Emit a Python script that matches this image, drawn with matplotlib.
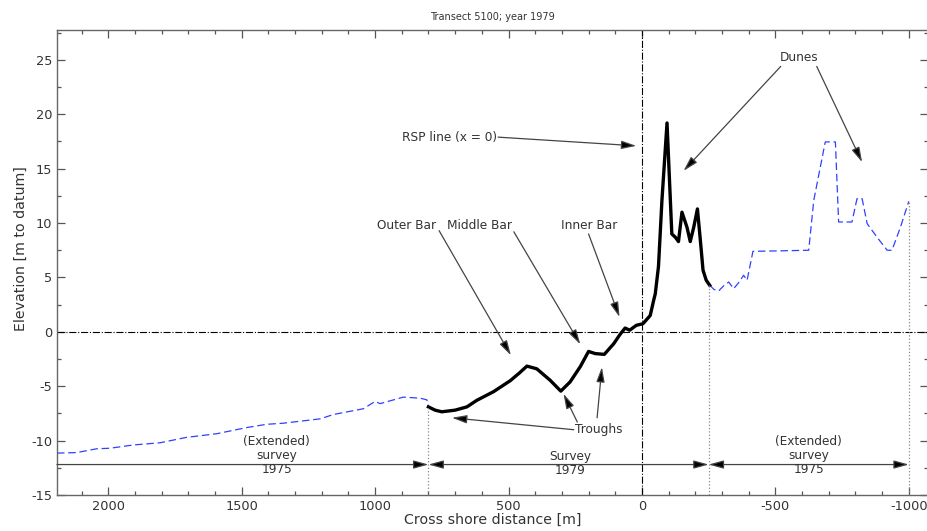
import matplotlib
matplotlib.use('Agg')
import matplotlib.pyplot as plt
from matplotlib.ticker import MultipleLocator

plt.rcParams['axes.unicode_minus'] = False

# offshore part of the extended 1975 survey
ext_off_x = [2192, 2118, 2043, 1993, 1906, 1806, 1706, 1594, 1481, 1406, 1344,
             1206, 1156, 1044, 1000, 981, 894, 831, 806, 800]
ext_off_y = [-11.15, -11.1, -10.75, -10.7, -10.4, -10.2, -9.7, -9.37, -8.8, -8.5,
             -8.4, -8.0, -7.6, -7.07, -6.4, -6.6, -6.0, -6.1, -6.25, -6.8]

# 1979 survey
survey_x = [800, 775, 750, 700, 656, 619, 556, 494, 460, 431, 394, 344, 304, 269,
            231, 200, 175, 141, 106, 81, 63, 46, 21, -4, -31, -44, -50, -62, -75,
            -94, -112, -125, -137, -150, -169, -181, -194, -208, -219, -229, -241,
            -254]
survey_y = [-6.9, -7.2, -7.35, -7.2, -6.9, -6.3, -5.5, -4.5, -3.8, -3.15, -3.4,
            -4.45, -5.45, -4.6, -3.2, -1.8, -2.0, -2.07, -1.1, -0.2, 0.35, 0.15,
            0.6, 0.75, 1.5, 2.9, 3.5, 6.0, 12.1, 19.2, 9.0, 8.7, 8.3, 11.0, 9.6,
            8.3, 9.6, 11.3, 8.4, 5.66, 4.74, 4.28]

# landward part of the extended 1975 survey
ext_on_x = [-254, -270, -287, -305, -325, -344, -365, -381, -394, -416, -625,
            -644, -687, -725, -737, -787, -806, -825, -844, -881, -919, -937,
            -969, -1000]
ext_on_y = [4.28, 3.9, 3.75, 4.2, 4.58, 3.97, 4.6, 5.2, 4.74, 7.4, 7.5, 12.1,
            17.46, 17.46, 10.1, 10.1, 12.25, 12.25, 9.95, 8.7, 7.5, 7.5, 9.64, 12.0]

# survey limits and their heights
bounds_x = [800, -250, -1000]
bounds_top = [-6.9, 4.3, 12.0]
arrow_y = -12.2

txt = '#333333'
fig = plt.figure(figsize=(9.28, 5.31), dpi=100)
ax = fig.add_axes([0.0614, 0.0678, 0.9386, 0.8757])

ax.plot(ext_off_x, ext_off_y, color='#3040ff', lw=0.9, dashes=(6, 3))
ax.plot(ext_on_x, ext_on_y, color='#3040ff', lw=0.9, dashes=(6, 3))
ax.plot(survey_x, survey_y, color='k', lw=2.4, solid_joinstyle='round')

ax.axhline(0, color='k', lw=0.8, ls='-.')
ax.axvline(0, color='k', lw=0.8, ls='-.')
for bx, bt in zip(bounds_x, bounds_top):
    ax.plot([bx, bx], [-15, bt], color='#888888', lw=0.9, ls=':')

head = dict(color='#444444', lw=0.9, shrinkA=0, shrinkB=0, mutation_scale=10)
one_way = '-|>,head_length=0.9,head_width=0.25'
two_way = '<|-|>,head_length=0.9,head_width=0.25'
ax.annotate('', xy=(800, arrow_y), xytext=(2192, arrow_y),
            arrowprops=dict(arrowstyle=one_way, fc='k', **head))
ax.annotate('', xy=(-250, arrow_y), xytext=(800, arrow_y),
            arrowprops=dict(arrowstyle=two_way, fc='k', **head))
ax.annotate('', xy=(-1000, arrow_y), xytext=(-250, arrow_y),
            arrowprops=dict(arrowstyle=two_way, fc='k', **head))

fs = 8.7
ax.text(1369, -11.4, '(Extended)\nsurvey\n1975', ha='center', va='center',
        fontsize=fs, color=txt, linespacing=1.1)
ax.text(-625, -11.4, '(Extended)\nsurvey\n1975', ha='center', va='center',
        fontsize=fs, color=txt, linespacing=1.1)
ax.text(269, -12.1, 'Survey\n1979', ha='center', va='center',
        fontsize=fs, color=txt, linespacing=1.1)


def pointer(tip, start):
    ax.annotate('', xy=tip, xytext=start,
                arrowprops=dict(arrowstyle=one_way, fc='k', **head))


ax.text(719, 17.9, 'RSP line (x = 0)', ha='center', va='center', fontsize=fs, color=txt)
pointer((21, 17.1), (539, 17.9))

ax.text(-588, 25.2, 'Dunes', ha='center', va='center', fontsize=fs, color=txt)
pointer((-156, 14.8), (-520, 24.4))
pointer((-825, 15.6), (-655, 24.4))

ax.text(884, 9.75, 'Outer Bar', ha='center', va='center', fontsize=fs, color=txt)
pointer((491, -2.16), (760, 9.3))
ax.text(610, 9.75, 'Middle Bar', ha='center', va='center', fontsize=fs, color=txt)
pointer((231, -1.15), (480, 9.2))
ax.text(198, 9.75, 'Inner Bar', ha='center', va='center', fontsize=fs, color=txt)
pointer((84, 1.36), (200, 9.0))

ax.text(250, -9.0, 'Troughs', ha='left', va='center', fontsize=fs, color=txt)
pointer((712, -7.9), (255, -9.0))
pointer((294, -5.69), (242, -8.3))
pointer((150, -3.24), (168, -7.9))

ax.set_xlim(2192, -1072)
ax.set_ylim(-15, 27.75)
ax.xaxis.set_major_locator(MultipleLocator(500))
ax.xaxis.set_minor_locator(MultipleLocator(100))
ax.yaxis.set_major_locator(MultipleLocator(5))
ax.yaxis.set_minor_locator(MultipleLocator(2.5))
ax.tick_params(which='both', direction='in', top=True, right=True,
               colors='#555555', labelcolor=txt, labelsize=9.3)
ax.tick_params(which='major', length=6, width=0.9)
ax.tick_params(which='minor', length=3, width=0.9)
for s in ax.spines.values():
    s.set_color('#666666')
    s.set_linewidth(1.0)

ax.set_xlabel('Cross shore distance [m]', fontsize=10.2, color=txt, labelpad=0)
ax.set_ylabel('Elevation [m to datum]', fontsize=10.2, color=txt)
ax.yaxis.set_label_coords(-0.034, 0.53)
ax.set_title('Transect 5100; year 1979', fontsize=7, color=txt, pad=7)

fig.savefig('out.png', dpi=100)
